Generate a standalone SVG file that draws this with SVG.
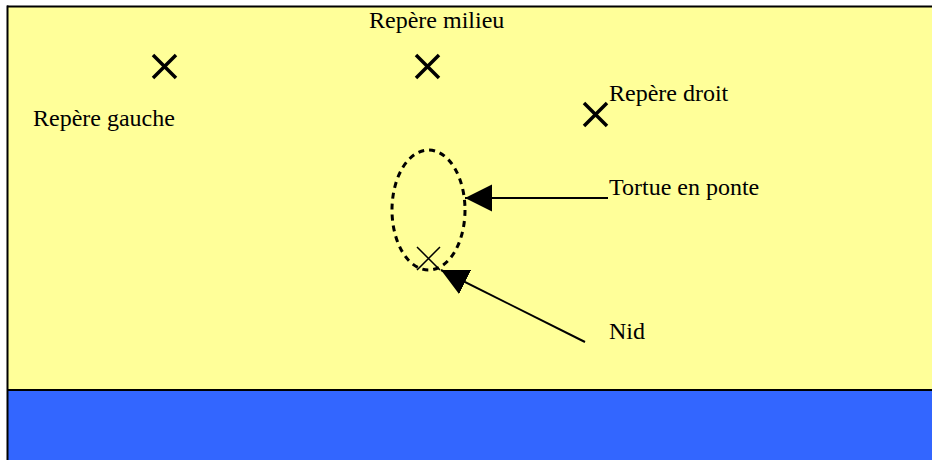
<svg xmlns="http://www.w3.org/2000/svg" width="932" height="460" viewBox="0 0 932 460">
<style>
.lbl{font-family:"Liberation Serif","Times New Roman",serif;font-size:24px;fill:#000}
.mk{stroke:#000;stroke-width:3.5;fill:none}
.thin{stroke:#000;stroke-width:1.5;fill:none}
.conn{stroke:#000;stroke-width:2;fill:none}
</style>
<defs>
<marker id="ah" markerUnits="userSpaceOnUse" markerWidth="28" markerHeight="28" refX="27" refY="13.5" orient="auto">
<path d="M0,0 L27,13.5 L0,27 Z" fill="#000"/>
</marker>
</defs>
<g id="background">
<rect x="7" y="6" width="925" height="384" fill="#FFFF99"/>
<rect x="7" y="390" width="925" height="70" fill="#3366FF"/>
<line x1="7" y1="6.5" x2="932" y2="6.5" stroke="#000" stroke-width="2"/>
<line x1="7.5" y1="5.5" x2="7.5" y2="460" stroke="#000" stroke-width="2"/>
<line x1="7" y1="390" x2="932" y2="390" stroke="#000" stroke-width="2"/>
</g>
<g id="repere-gauche">
<path class="mk" d="M153,55 L176,78 M176,55 L153,78"/>
<text class="lbl" x="33" y="126">Repère gauche</text>
</g>
<g id="repere-milieu">
<path class="mk" d="M416,55 L439,78 M439,55 L416,78"/>
<text class="lbl" x="369" y="28">Repère milieu</text>
</g>
<g id="repere-droit">
<path class="mk" d="M584,103 L607,126 M607,103 L584,126"/>
<text class="lbl" x="609" y="101">Repère droit</text>
</g>
<g id="tortue">
<ellipse cx="428.5" cy="210" rx="36.5" ry="60" fill="none" stroke="#000" stroke-width="3" stroke-dasharray="6,5"/>
<text class="lbl" x="609" y="195">Tortue en ponte</text>
</g>
<g id="nid">
<path class="thin" d="M417,247 L440,270 M440,247 L417,270"/>
<text class="lbl" x="609" y="339">Nid</text>
</g>
<g id="connectors">
<line class="conn" x1="608" y1="198" x2="465" y2="198" marker-end="url(#ah)"/>
<line class="conn" x1="585" y1="342" x2="441" y2="270" marker-end="url(#ah)"/>
</g>
</svg>
